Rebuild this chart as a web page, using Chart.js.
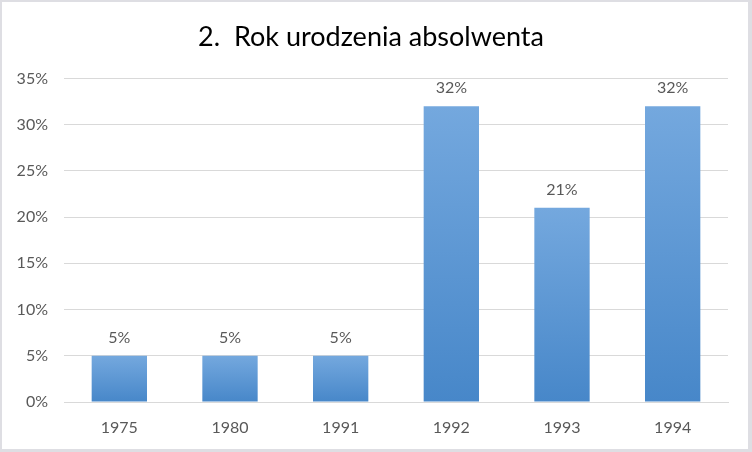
<!DOCTYPE html>
<html>
<head>
<meta charset="utf-8">
<script src="https://cdn.jsdelivr.net/npm/chart.js@4"></script>
<style>
  html, body { margin: 0; padding: 0; background: #fff; }
  #wrap { width: 752px; height: 452px; position: relative; }
</style>
</head>
<body>
<div id="wrap"><canvas id="chart"></canvas></div>
<script>
const TITLE = '2.  Rok urodzenia absolwenta';
const years = ['1975', '1980', '1991', '1992', '1993', '1994'];
const shares = [5, 5, 5, 32, 21, 32];
const yTicks = [0, 5, 10, 15, 20, 25, 30, 35];

const TEXT_GREY = '#595959';
const FONT = 'Lato, "Open Sans", sans-serif';

// Excel style gradient: each bar goes light at the top to darker at the base
function barFill(ctx) {
    const chart = ctx.chart;
    const y = chart.scales.y;
    if (!y || ctx.raw === undefined) return '#5b9bd5';
    const top = y.getPixelForValue(ctx.raw);
    const base = y.getPixelForValue(0);
    if (!isFinite(top) || !isFinite(base) || top === base) return '#5b9bd5';
    const g = chart.ctx.createLinearGradient(0, top, 0, base);
    g.addColorStop(0, '#74a8de');
    g.addColorStop(1, '#4787c9');
    return g;
}

// frame round the whole picture
const framePlugin = {
    id: 'frame',
    beforeDraw(chart) {
        const c = chart.ctx;
        c.save();
        c.fillStyle = '#ffffff';
        c.fillRect(0, 0, chart.width, chart.height);
        c.fillStyle = '#dedee3';
        c.fillRect(0, 0, chart.width, 2);
        c.fillRect(0, 0, 2, chart.height);
        c.fillRect(chart.width - 4, 0, 4, chart.height);
        c.fillRect(0, chart.height - 3, chart.width, 3);
        c.restore();
    }
};

// value labels above the bars
const valueLabels = {
    id: 'valueLabels',
    afterDatasetsDraw(chart) {
        const c = chart.ctx;
        const meta = chart.getDatasetMeta(0);
        c.save();
        c.fillStyle = TEXT_GREY;
        c.font = '16px ' + FONT;
        c.textAlign = 'center';
        c.textBaseline = 'bottom';
        meta.data.forEach((bar, i) => {
            c.fillText(shares[i] + '%', bar.x, bar.y - 10);
        });
        c.restore();
    }
};

new Chart(document.getElementById('chart'), {
    type: 'bar',
    data: {
        labels: years,
        datasets: [{
            data: shares,
            backgroundColor: barFill,
            borderWidth: 0,
            categoryPercentage: 1,
            barPercentage: 0.5
        }]
    },
    options: {
        responsive: true,
        maintainAspectRatio: false,
        animation: false,
        layout: { padding: { left: 14, right: 24, top: 0, bottom: 14 } },
        plugins: {
            legend: { display: false },
            tooltip: { enabled: false },
            title: {
                display: true,
                text: TITLE,
                color: '#000000',
                font: { family: FONT, size: 27, weight: 'normal' },
                padding: { top: 21, bottom: 25 }
            }
        },
        scales: {
            x: {
                grid: { display: false, drawTicks: false },
                border: { display: true, color: '#d9d9d9' },
                ticks: { color: TEXT_GREY, font: { family: FONT, size: 16 }, padding: 16 },
                afterFit(axis) { axis.height = 36; }
            },
            y: {
                min: 0,
                max: 35,
                afterBuildTicks(axis) { axis.ticks = yTicks.map(v => ({ value: v })); },
                grid: { color: '#d9d9d9', drawTicks: false },
                border: { display: false },
                ticks: {
                    color: TEXT_GREY,
                    font: { family: FONT, size: 16 },
                    padding: 16,
                    callback: v => v + '%'
                },
                afterFit(axis) { axis.width = 50; }
            }
        }
    },
    plugins: [framePlugin, valueLabels]
});
</script>
</body>
</html>
